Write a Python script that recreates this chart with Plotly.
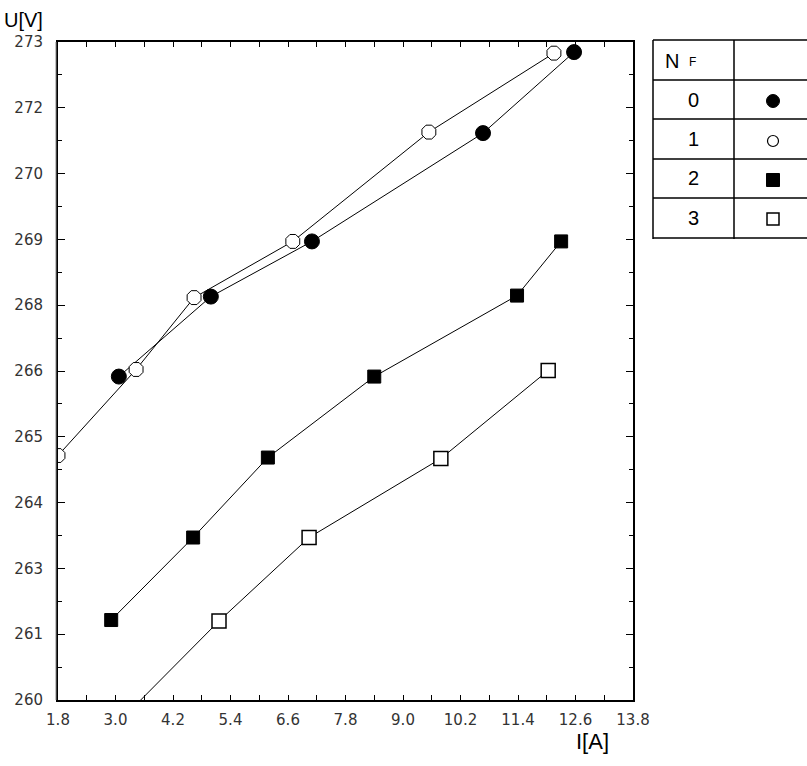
import plotly.graph_objects as go

# Measured current I [A] and voltage U [V] for each N_F
n_f_labels = ["0", "1", "2", "3"]

i_nf0 = [3.07, 4.99, 7.10, 10.67, 12.57]
u_nf0 = [266.39, 267.97, 269.06, 271.20, 272.80]

i_nf1 = [1.80, 3.43, 4.64, 6.70, 9.54, 12.15]
u_nf1 = [264.83, 266.53, 267.95, 269.06, 271.22, 272.78]

i_nf2 = [2.91, 4.62, 6.18, 8.40, 11.38, 12.30]
u_nf2 = [261.58, 263.21, 264.79, 266.39, 267.99, 269.06]

i_nf3 = [2.95, 5.16, 7.04, 9.79, 12.03]
u_nf3 = [259.45, 261.56, 263.21, 264.77, 266.51]

# Axis ticks
x_tick_vals = [1.8, 3.0, 4.2, 5.4, 6.6, 7.8, 9.0, 10.2, 11.4, 12.6, 13.8]
y_tick_vals = [260 + 1.3 * k for k in range(11)]
y_tick_labels = ["260", "261", "263", "264", "265", "266", "268", "269", "270", "272", "273"]

# Plot-area geometry in pixels (used for the hand-drawn legend table)
W, H = 807, 766
L, R, T, B = 58, 174, 42, 66
PW, PH = W - L - R, H - T - B


def px_x(px):
    return (px - L) / PW


def px_y(py):
    return (H - B - py) / PH


series = [
    (i_nf0, u_nf0, dict(symbol="circle", size=15, color="black", line=dict(color="black", width=1))),
    (i_nf1, u_nf1, dict(symbol="octagon", size=15, color="white", line=dict(color="black", width=1))),
    (i_nf2, u_nf2, dict(symbol="square", size=13, color="black", line=dict(color="black", width=1))),
    (i_nf3, u_nf3, dict(symbol="square", size=14, color="white", line=dict(color="black", width=1.5))),
]

fig = go.Figure()
for (xs, ys, mk), name in zip(series, n_f_labels):
    fig.add_trace(go.Scatter(
        x=xs, y=ys, mode="lines+markers", name=name,
        line=dict(color="black", width=1),
        marker=mk, cliponaxis=True, showlegend=False,
    ))

tick_font = dict(family="DejaVu Sans", size=15, color="#333333")

fig.update_xaxes(
    range=[1.8, 13.8], tickmode="array", tickvals=x_tick_vals,
    ticktext=[f"{v:.1f}" for v in x_tick_vals],
    ticks="inside", ticklen=5, tickwidth=1, tickcolor="black",
    minor=dict(dtick=0.6, tick0=1.8, ticks="inside", ticklen=5, tickwidth=1, tickcolor="black", showgrid=False),
    showline=True, linewidth=2, linecolor="black", mirror="allticks",
    showgrid=False, zeroline=False, tickfont=tick_font, ticklabelstandoff=5,
)
fig.update_yaxes(
    range=[260, 273], tickmode="array", tickvals=y_tick_vals, ticktext=y_tick_labels,
    ticks="inside", ticklen=7, tickwidth=1, tickcolor="black",
    minor=dict(dtick=0.65, tick0=260, ticks="inside", ticklen=4, tickwidth=1, tickcolor="black", showgrid=False),
    showline=True, linewidth=2, linecolor="black", mirror="allticks",
    showgrid=False, zeroline=False, tickfont=tick_font, ticklabelstandoff=10,
)

shapes = []
# thin grey companion line beside the left axis
shapes.append(dict(type="line", xref="paper", yref="paper", x0=px_x(56), x1=px_x(56),
                   y0=0, y1=1, line=dict(color="#888888", width=1)))

# legend table grid
tbl_left, tbl_mid, tbl_right = 653, 734, 830
row_lines = [40, 80, 119, 159, 198, 238]
for yy in row_lines:
    shapes.append(dict(type="line", xref="paper", yref="paper",
                       x0=px_x(tbl_left), x1=px_x(tbl_right), y0=px_y(yy), y1=px_y(yy),
                       line=dict(color="black", width=1.5)))
for xx in (tbl_left, tbl_mid):
    shapes.append(dict(type="line", xref="paper", yref="paper",
                       x0=px_x(xx), x1=px_x(xx), y0=px_y(40), y1=px_y(239),
                       line=dict(color="black", width=1.5)))

# legend glyphs
glyph_x = 773
glyph_rows = [101, 141, 180, 219]
glyph_specs = [
    ("circle", 13, "black", 1),
    ("circle", 11, "white", 1.2),
    ("rect", 13, "black", 1),
    ("rect", 12, "white", 1.5),
]
for cy, (kind, sz, fill, lw) in zip(glyph_rows, glyph_specs):
    hs = sz / 2
    shapes.append(dict(type=kind, xref="paper", yref="paper",
                       x0=px_x(glyph_x - hs), x1=px_x(glyph_x + hs),
                       y0=px_y(cy + hs), y1=px_y(cy - hs),
                       fillcolor=fill, line=dict(color="black", width=lw)))

annotations = [
    dict(text="U[V]", xref="paper", yref="paper", x=px_x(2), y=px_y(20),
         xanchor="left", yanchor="middle", showarrow=False,
         font=dict(family="Liberation Sans", size=20, color="black")),
    dict(text="I[A]", xref="paper", yref="paper", x=px_x(592), y=px_y(741),
         xanchor="center", yanchor="middle", showarrow=False,
         font=dict(family="Liberation Sans", size=22, color="black")),
    dict(text="N", xref="paper", yref="paper", x=px_x(672), y=px_y(61),
         xanchor="center", yanchor="middle", showarrow=False,
         font=dict(family="Liberation Sans", size=20, color="black")),
    dict(text="F", xref="paper", yref="paper", x=px_x(692), y=px_y(62),
         xanchor="center", yanchor="middle", showarrow=False,
         font=dict(family="Liberation Sans", size=12, color="black")),
]
label_rows = [100, 139, 178, 218]
for cy, lab in zip(label_rows, n_f_labels):
    annotations.append(dict(text=lab, xref="paper", yref="paper", x=px_x(693), y=px_y(cy),
                            xanchor="center", yanchor="middle", showarrow=False,
                            font=dict(family="Liberation Sans", size=20, color="black")))

fig.update_layout(
    width=W, height=H,
    margin=dict(l=L, r=R, t=T, b=B, pad=0),
    paper_bgcolor="white", plot_bgcolor="white",
    shapes=shapes, annotations=annotations, showlegend=False,
)

fig.write_html("out.html")
